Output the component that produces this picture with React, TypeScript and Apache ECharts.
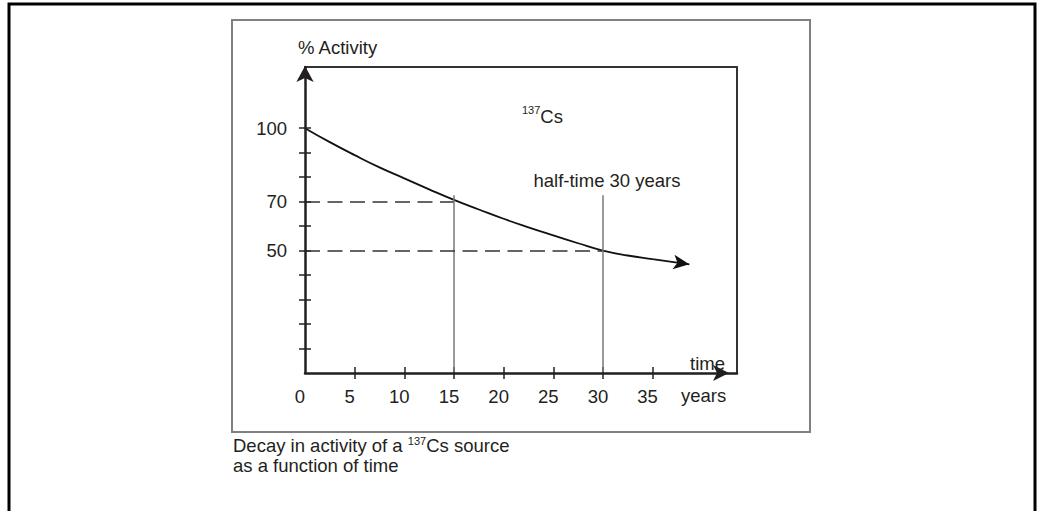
import React, { useEffect, useRef } from "react";
import * as echarts from "echarts";

// Curve (years, % activity)
const years = [0, 2.5, 5, 7.5, 10, 12.5, 15, 17.5, 20, 22.5, 25, 27.5, 30, 32.5, 35, 38.7];
const activity = [100, 94.3, 89, 84, 79.5, 75, 70.7, 66.8, 63, 59.5, 56.2, 53, 50, 48, 46.5, 44.4];

// Axis ticks and labels
const xTickValues = [5, 10, 15, 20, 25, 30, 35];
const xLabelValues = [0, 5, 10, 15, 20, 25, 30, 35];
const yTickValues = [10, 20, 30, 40, 50, 60, 70, 80, 90, 100];
const yLabelValues = [50, 70, 100];

// Guide lines: time marks and the activity at those times
const guideYears = [15, 30];
const guideActivity = [70, 50];
const guideTop = 72.6;

const X_MAX = 43.5;
const Y_MAX = 125;
const FONT = "'Liberation Sans', Arial, Helvetica, sans-serif";
const INK = "#231f20";
const FS = 18.5;

export default function App() {
  const ref = useRef<HTMLDivElement>(null);
  useEffect(() => {
    if (!ref.current) return;
    const chart = echarts.init(ref.current, null, { renderer: "svg" });
    const last = years.length - 1;
    const data = years.map((t, i) =>
      i === last
        ? {
            value: [t, activity[i]],
            symbol: "arrow",
            symbolSize: [11, 16],
            symbolRotate: -98,
            symbolOffset: [0, 0],
            itemStyle: { color: "#111" },
          }
        : { value: [t, activity[i]], symbol: "none" }
    );
    const markData: any[] = [];
    guideYears.forEach((t, i) => {
      markData.push([
        { coord: [0, guideActivity[i]], lineStyle: { type: [15, 7.5], color: "#333", width: 1.5 } },
        { coord: [t, guideActivity[i]] },
      ]);
      markData.push([
        { coord: [t, 0], lineStyle: { type: "solid", color: "#777", width: 1.5 } },
        { coord: [t, guideTop] },
      ]);
    });

    const baseX = { type: "value", min: 0, max: X_MAX, splitLine: { show: false } };
    const baseY = { type: "value", min: 0, max: Y_MAX, splitLine: { show: false } };

    chart.setOption({
      animation: false,
      grid: { left: 305, top: 67, width: 432, height: 306, containLabel: false, outerBoundsMode: "none" },
      xAxis: [
        {
          ...baseX,
          position: "bottom",
          axisLine: {
            show: true,
            onZero: false,
            lineStyle: { color: INK, width: 2.5 },
            symbol: ["none", "arrow"],
            symbolSize: [12, 16],
            symbolOffset: [0, -8],
          },
          axisTick: { show: true, length: 6, lineStyle: { color: INK, width: 1.5 }, customValues: xTickValues },
          axisLabel: {
            show: true,
            customValues: xLabelValues,
            margin: 14,
            fontSize: FS,
            fontFamily: FONT,
            color: INK,
            padding: [0, 10, 0, 0],
          },
          z: 5,
        },
        {
          ...baseX,
          position: "bottom",
          axisLine: { show: false, onZero: false },
          axisTick: { show: true, inside: true, length: 6, lineStyle: { color: INK, width: 1.5 }, customValues: xTickValues },
          axisLabel: { show: false },
        },
        {
          ...baseX,
          position: "top",
          axisLine: { show: true, onZero: false, lineStyle: { color: "#333", width: 2 } },
          axisTick: { show: false },
          axisLabel: { show: false },
        },
      ],
      yAxis: [
        {
          ...baseY,
          position: "left",
          axisLine: {
            show: true,
            onZero: false,
            lineStyle: { color: INK, width: 2.5 },
            symbol: ["none", "arrow"],
            symbolSize: [13, 16],
            symbolOffset: [0, 1],
          },
          axisTick: { show: true, length: 6, lineStyle: { color: INK, width: 1.5 }, customValues: yTickValues },
          axisLabel: {
            show: true,
            customValues: yLabelValues,
            margin: 18,
            fontSize: FS,
            fontFamily: FONT,
            color: INK,
          },
          z: 5,
        },
        {
          ...baseY,
          position: "left",
          axisLine: { show: false, onZero: false },
          axisTick: { show: true, inside: true, length: 6, lineStyle: { color: INK, width: 1.5 }, customValues: yTickValues },
          axisLabel: { show: false },
        },
        {
          ...baseY,
          position: "right",
          axisLine: { show: true, onZero: false, lineStyle: { color: "#333", width: 2 } },
          axisTick: { show: false },
          axisLabel: { show: false },
        },
      ],
      series: [
        {
          type: "line",
          xAxisIndex: 0,
          yAxisIndex: 0,
          smooth: true,
          showSymbol: true,
          symbol: "none",
          lineStyle: { color: "#111", width: 1.8 },
          itemStyle: { color: "#111" },
          data,
          markLine: {
            silent: true,
            symbol: ["none", "none"],
            label: { show: false },
            data: markData,
          },
          z: 3,
        },
      ],
      graphic: [
        {
          type: "rect",
          shape: { x: 9, y: 4, width: 1026, height: 530 },
          style: { fill: "none", stroke: "#000", lineWidth: 3 },
          silent: true,
        },
        {
          type: "rect",
          shape: { x: 232, y: 20, width: 578, height: 412 },
          style: { fill: "none", stroke: "#808080", lineWidth: 2 },
          silent: true,
        },
        {
          type: "text",
          x: 298,
          y: 38,
          style: { text: "% Activity", fontSize: FS, fontFamily: FONT, fill: INK },
        },
        {
          type: "text",
          x: 690,
          y: 354,
          style: { text: "time", fontSize: FS, fontFamily: FONT, fill: INK },
        },
        {
          type: "text",
          x: 681,
          y: 386,
          style: { text: "years", fontSize: FS, fontFamily: FONT, fill: INK },
        },
        {
          type: "text",
          x: 607,
          y: 171,
          style: { text: "half-time 30 years", fontSize: FS, fontFamily: FONT, fill: INK, align: "center" },
        },
        {
          type: "text",
          x: 522,
          y: 104,
          style: {
            text: "{s|137}{n|Cs}",
            fontFamily: FONT,
            fill: INK,
            rich: {
              n: { fontSize: FS, lineHeight: 22, verticalAlign: "bottom", fontFamily: FONT, fill: INK },
              s: { fontSize: 11, lineHeight: 12, verticalAlign: "top", fontFamily: FONT, fill: INK },
            },
          },
        },
        {
          type: "text",
          x: 233,
          y: 435,
          style: {
            text: "{n|Decay in activity of a }{s|137}{n|Cs source}\n{n|as a function of time}",
            fontFamily: FONT,
            fill: INK,
            rich: {
              n: { fontSize: FS, lineHeight: 20, verticalAlign: "bottom", fontFamily: FONT, fill: INK },
              s: { fontSize: 11, lineHeight: 12, verticalAlign: "top", fontFamily: FONT, fill: INK },
            },
          },
        },
      ],
    });
    return () => chart.dispose();
  }, []);
  return (
    <div
      ref={ref}
      style={{ position: "fixed", left: 0, top: 0, width: 1042, height: 511, background: "#fff" }}
    />
  );
}
